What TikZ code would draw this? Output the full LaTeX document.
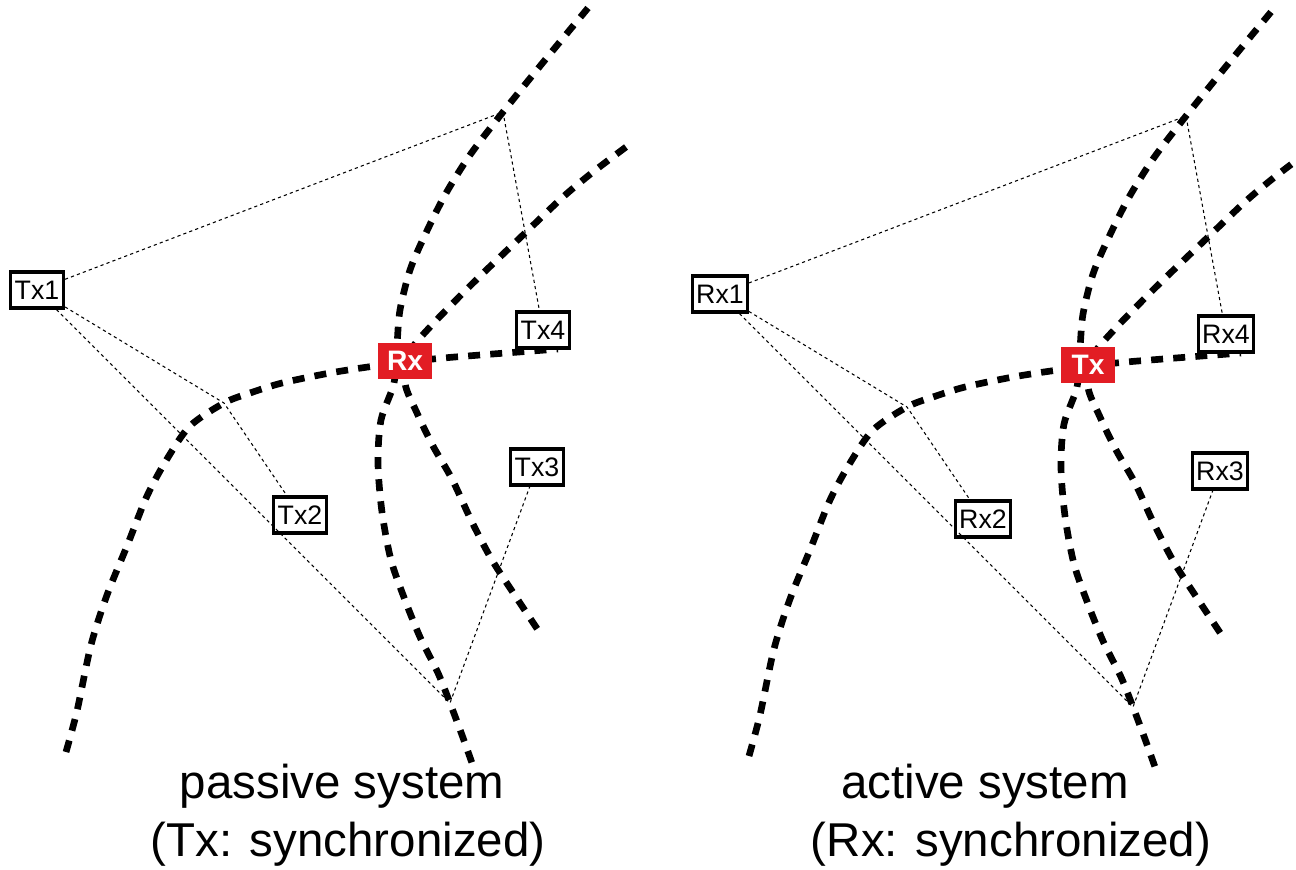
\documentclass[tikz,border=0pt]{standalone}
\usepackage{fontspec}
\setmainfont{Liberation Sans}
\usepackage{tikz}
\definecolor{hubred}{RGB}{226,29,36}

\begin{document}
\begin{tikzpicture}[x=0.01cm,y=-0.01cm]
\tikzstyle{orbit}=[line width=1.9pt,dash pattern=on 3.4pt off 2.9pt]
\tikzstyle{ray}=[line width=0.3pt,dash pattern=on 0.9pt off 0.9pt]
\tikzstyle{station}=[draw,line width=0.9pt,fill=white,minimum width=0.53cm,
  minimum height=0.36cm,inner sep=1pt,font=\fontsize{7.6}{8}\selectfont]
\tikzstyle{hub}=[fill=hubred,text=white,minimum width=0.54cm,minimum 
  height=0.35cm,inner sep=1pt,font=\fontsize{8}{9}\selectfont\bfseries]
\tikzstyle{caption}=[anchor=base,font=\fontsize{13.5}{16}\selectfont]

	\clip (0,0) rectangle (1296,869);

	\foreach \dx/\dy/\hubname/\stname/\pfx in {0/0/Rx/Tx/p, 683/4/Tx/Rx/a} {
	\begin{scope}[shift={(\dx,\dy)},name prefix=\pfx-]
	% curves
	\draw [orbit] plot [smooth] coordinates {(66,752) (77,711) (91,645) 
	(107,595) (127,546) (147,496) (167,459) (190,426) (224,403) (250,393) 
	(282,383) (330,373) (375,366) (433,359) (480,355) (558,349)};
	\draw [orbit] plot [smooth] coordinates {(588,8) (545,60) (503,112) 
	(470,155) (445,195) (425,235) (410,270) (400,310) (397,345) (394,383) 
	(381,420) (378,463) (382,512) (391,560) (405,600) (420,637) (438,673) 
	(450,703) (462,735) (472,763)};
	\draw [orbit] plot [smooth] coordinates {(626,147) (593,172) (563,197) 
	(523,235) (473,283) (430,327) (410,352) (405,383) (417,413) (433,446) 
	(452,479) (472,522) (492,560) (518,600) (542,636)};
	
	% stations
	\node [hub] (hub) at (405,361) {\hubname};
	\node [station] (st1) at (37,290) {\stname1};
	\node [station] (st2) at (300,515) {\stname2};
	\node [station] (st3) at (537,467) {\stname3};
	\node [station] (st4) at (543,330) {\stname4};
	
	% reflection points
	\coordinate (r1) at (503,112);
	\coordinate (r2) at (224,403);
	\coordinate (r3) at (450,703);
	
	% paths
	\draw [ray] (st1) -- (r1) -- (st4);
	\draw [ray] (st1) -- (r2) -- (st2);
	\draw [ray] (st1) -- (r3) -- (st3);
	\end{scope}
	}
	
	% captions
	\node [caption] (cappas) at (342,798) {passive system};
	\node [caption] (cappassync) at (348,856) {(Tx: synchronized)};
	\node [caption] (capact) at (985,798) {active system};
	\node [caption] (capactsync) at (1011,856) {(Rx: synchronized)};
\end{tikzpicture}
\end{document}
